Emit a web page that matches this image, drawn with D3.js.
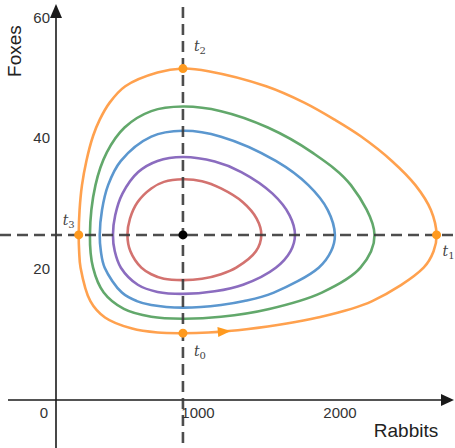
<!DOCTYPE html>
<html>
<head>
<meta charset="utf-8">
<script src="https://cdn.jsdelivr.net/npm/d3@7/dist/d3.min.js"></script>
<style>
  body { margin: 0; background: #fff; }
  svg { display: block; font-family: "Liberation Sans", Arial, sans-serif; }
</style>
</head>
<body>
<div id="chart"></div>
<script>
// orbit data (rabbits, foxes)
var orbitNames = ["red", "purple", "blue", "green", "orange"];

var redRabbits = [894, 1028, 1162, 1269, 1408, 1446, 1413, 1316, 1162, 1028, 894, 760, 671, 574, 521, 503, 524, 601, 671, 760];
var redFoxes = [18.3, 18.5, 19.2, 20.2, 22.7, 25.2, 27.7, 30.2, 32.3, 33.4, 33.7, 33.3, 32.3, 30.2, 27.7, 25.2, 22.7, 20.2, 19.2, 18.5];

var purpleRabbits = [894, 1118, 1317, 1548, 1651, 1683, 1645, 1525, 1305, 1118, 894, 715, 579, 468, 417, 401, 414, 457, 576, 715];
var purpleFoxes = [16.2, 16.6, 17.6, 20.2, 22.7, 25.2, 28.2, 31.5, 34.8, 36.4, 37.1, 36.5, 34.8, 31.5, 28.2, 25.2, 22.7, 20.2, 17.6, 16.5];

var blueRabbits = [894, 1162, 1325, 1534, 1850, 1937, 1964, 1914, 1777, 1548, 1162, 894, 671, 457, 367, 324, 308, 316, 343, 464, 569, 671];
var blueFoxes = [14.1, 14.5, 15.1, 16.4, 20.2, 22.7, 25.2, 29.0, 32.8, 36.5, 40.2, 41.1, 40.2, 36.5, 32.8, 29.0, 25.2, 22.7, 20.2, 16.4, 15.1, 14.5];

var greenRabbits = [894, 1162, 1502, 1872, 2144, 2243, 2077, 1803, 1492, 1162, 894, 671, 483, 358, 278, 239, 261, 336, 478, 671];
var greenFoxes = [12.4, 12.7, 13.9, 16.4, 20.2, 25.2, 32.8, 37.8, 41.6, 44.1, 44.8, 44.1, 41.6, 37.8, 32.8, 25.2, 20.2, 16.4, 13.9, 12.7];

var orangeRabbits = [894, 1073, 1341, 1844, 2227, 2589, 2659, 2680, 2640, 2531, 2365, 2144, 1962, 1748, 1480, 1073, 894, 715, 488, 378, 308, 261, 214, 183, 166, 160, 163, 173, 242, 345, 536, 715];
var orangeFoxes = [10.2, 10.3, 10.8, 12.6, 15.1, 20.2, 22.7, 25.2, 29.0, 32.8, 36.5, 40.3, 42.8, 45.4, 47.9, 50.2, 50.6, 50.0, 47.9, 45.4, 42.8, 40.3, 36.5, 32.8, 29.0, 25.2, 22.7, 20.2, 15.1, 12.6, 10.9, 10.3];

var equilibrium = [894, 25.2];
var markerRabbits = [894, 2680, 894, 160];
var markerFoxes = [10.2, 25.2, 50.6, 25.2];
var markerLabels = ["0", "1", "2", "3"];
var arrowRabbits = 1190;

var xTicks = [1000, 2000];
var yTicks = [20, 40, 60];

var width = 455, height = 448;
var colors = { red: "#d3726f", purple: "#8b6cbf", blue: "#5b97cf", green: "#62a86b", orange: "#ffa14e" };

var x = d3.scaleLinear().domain([0, 3000]).range([56, 482]);
var y = d3.scaleLinear().domain([0, 60]).range([400, 7]);

var svg = d3.select("#chart").append("svg")
    .attr("width", width)
    .attr("height", height);

// axes with arrow heads
svg.append("line")
    .attr("x1", 8).attr("x2", 446)
    .attr("y1", y(0)).attr("y2", y(0))
    .attr("stroke", "#1a1a1a").attr("stroke-width", 1.6);
svg.append("path")
    .attr("d", "M" + 454 + "," + y(0) + "l-13,-6v12z")
    .attr("fill", "#1a1a1a");
svg.append("line")
    .attr("x1", x(0)).attr("x2", x(0))
    .attr("y1", height).attr("y2", 14)
    .attr("stroke", "#1a1a1a").attr("stroke-width", 1.6);
svg.append("path")
    .attr("d", "M" + x(0) + "," + 4 + "l-6,14h12z")
    .attr("fill", "#1a1a1a");

// tick labels
svg.selectAll(".xt").data(xTicks).enter().append("text")
    .attr("x", function (d) { return x(d); })
    .attr("y", 418)
    .attr("text-anchor", "middle")
    .attr("font-size", 15)
    .attr("fill", "#333")
    .text(function (d) { return d; });
svg.append("text")
    .attr("x", 44).attr("y", 418)
    .attr("text-anchor", "middle")
    .attr("font-size", 15).attr("fill", "#333")
    .text("0");
svg.selectAll(".yt").data(yTicks).enter().append("text")
    .attr("x", 50)
    .attr("y", function (d) { return Math.max(y(d), 18) + 5; })
    .attr("text-anchor", "end")
    .attr("font-size", 15)
    .attr("fill", "#333")
    .text(function (d) { return d; });

// axis titles
svg.append("text")
    .attr("x", 406).attr("y", 437)
    .attr("text-anchor", "middle")
    .attr("font-size", 19).attr("fill", "#222")
    .text("Rabbits");
svg.append("text")
    .attr("transform", "translate(21,51) rotate(-90)")
    .attr("text-anchor", "middle")
    .attr("font-size", 19).attr("fill", "#222")
    .text("Foxes");

// orbits
var orbits = {
    red: d3.zip(redRabbits, redFoxes),
    purple: d3.zip(purpleRabbits, purpleFoxes),
    blue: d3.zip(blueRabbits, blueFoxes),
    green: d3.zip(greenRabbits, greenFoxes),
    orange: d3.zip(orangeRabbits, orangeFoxes)
};
var line = d3.line()
    .x(function (d) { return x(d[0]); })
    .y(function (d) { return y(d[1]); })
    .curve(d3.curveCatmullRomClosed.alpha(0.5));

var paths = {};
orbitNames.forEach(function (name) {
    paths[name] = svg.append("path")
        .attr("d", line(orbits[name]))
        .attr("fill", "none")
        .attr("stroke", colors[name])
        .attr("stroke-width", 2.6);
});

// direction arrow on the orange orbit
var node = paths.orange.node();
var total = node.getTotalLength();
var best = 0, bestD = Infinity;
for (var l = 0; l < total / 4; l += 0.5) {
    var p = node.getPointAtLength(l);
    var dd = Math.abs(p.x - x(arrowRabbits));
    if (dd < bestD) { bestD = dd; best = l; }
}
var pa = node.getPointAtLength(best), pb = node.getPointAtLength(best + 2);
var ang = Math.atan2(pb.y - pa.y, pb.x - pa.x) * 180 / Math.PI;
svg.append("path")
    .attr("d", "M6,0L-7,-5L-7,5Z")
    .attr("transform", "translate(" + pa.x + "," + pa.y + ") rotate(" + ang + ")")
    .attr("fill", "#ff9a1f");

// equilibrium cross
svg.append("line")
    .attr("x1", 0).attr("x2", width)
    .attr("y1", y(equilibrium[1])).attr("y2", y(equilibrium[1]))
    .attr("stroke", "#3a3a3a").attr("stroke-width", 2.6)
    .attr("stroke-dasharray", "11,6").attr("stroke-opacity", 0.9);
svg.append("line")
    .attr("x1", x(equilibrium[0])).attr("x2", x(equilibrium[0]))
    .attr("y1", 7).attr("y2", height)
    .attr("stroke", "#3a3a3a").attr("stroke-width", 2.6)
    .attr("stroke-dasharray", "11,6").attr("stroke-opacity", 0.9);
svg.append("circle")
    .attr("cx", x(equilibrium[0])).attr("cy", y(equilibrium[1]))
    .attr("r", 4.5).attr("fill", "#000");

// time markers
svg.selectAll(".mk").data(markerRabbits).enter().append("circle")
    .attr("cx", function (d) { return x(d); })
    .attr("cy", function (d, i) { return y(markerFoxes[i]); })
    .attr("r", 4.5)
    .attr("fill", "#ff9a1f");

var labelOffsets = [[11, 23], [6, 21], [11, -18], [-16, -10]];
var lbl = svg.selectAll(".tl").data(markerLabels).enter().append("text")
    .attr("x", function (d, i) { return x(markerRabbits[i]) + labelOffsets[i][0]; })
    .attr("y", function (d, i) { return y(markerFoxes[i]) + labelOffsets[i][1]; })
    .attr("font-family", "'DejaVu Serif', 'Liberation Serif', serif")
    .attr("font-size", 14)
    .attr("fill", "#444");
lbl.append("tspan").attr("font-style", "italic").text("t");
lbl.append("tspan")
    .attr("font-size", 10)
    .attr("dy", 3)
    .text(function (d) { return d; });
</script>
</body>
</html>
